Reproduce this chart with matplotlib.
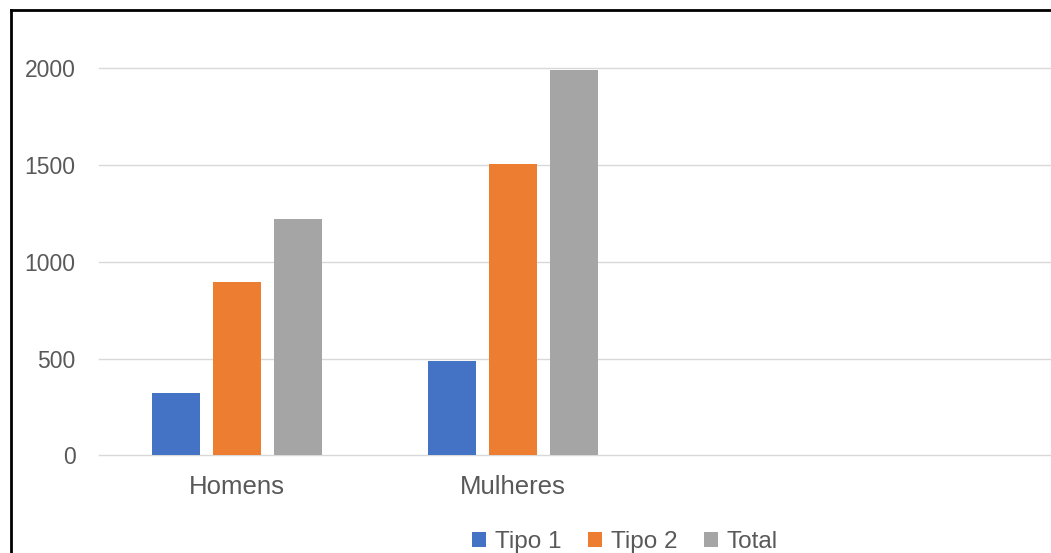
import matplotlib
matplotlib.use("Agg")
import matplotlib.pyplot as plt
from matplotlib.lines import Line2D
import numpy as np

categorias = ["Homens", "Mulheres"]
tipo1 = [323, 487]
tipo2 = [895, 1505]
total = [1220, 1992]
series = ["Tipo 1", "Tipo 2", "Total"]
cores = ["#4472C4", "#ED7D31", "#A5A5A5"]
yticks = [0, 500, 1000, 1500, 2000]

plt.rcParams["font.family"] = ["Liberation Sans", "DejaVu Sans"]
texto = "#595959"

W, H = 1051, 553
fig = plt.figure(figsize=(W / 100, H / 100), dpi=100)
# plot area: left edge at x=99px, zero line y=455px, 2000 line y=68px
ax = fig.add_axes([99 / W, (H - 455.3) / H, (W - 99) / W, (455.3 - 68.3) / H])

x = np.arange(len(categorias))
larg = 0.1775
desloc = 0.221
for j, (vals, nome, cor) in enumerate(zip([tipo1, tipo2, total], series, cores)):
    ax.bar(x + (j - 1) * desloc, vals, width=larg, color=cor, label=nome, zorder=3)

ax.set_xlim(-0.5, -0.5 + (W - 99) / 276)
ax.set_ylim(0, 2000)
ax.set_yticks(yticks)
ax.set_xticks(x)
ax.set_xticklabels(categorias)
ax.grid(axis="y", color="#D9D9D9", linewidth=1.0, zorder=0)
for gl in ax.get_ygridlines():
    gl.set_clip_on(False)
ax.set_axisbelow(True)
for s in ax.spines.values():
    s.set_visible(False)
ax.tick_params(axis="y", length=0, pad=17, labelsize=16.5, labelcolor=texto)
ax.tick_params(axis="x", length=0, pad=14, labelsize=18.5, labelcolor=texto)

leg = fig.legend(loc="center", bbox_to_anchor=(625 / W, (H - 542) / H), ncol=3,
                 frameon=False, fontsize=17.5, handlelength=0.58, handleheight=0.58,
                 handletextpad=0.35, columnspacing=1.1, borderpad=0)
for t in leg.get_texts():
    t.set_color(texto)

# moldura preta (topo e esquerda)
fig.add_artist(Line2D([11 / W, 1], [(H - 10) / H, (H - 10) / H], color="black", linewidth=2, transform=fig.transFigure))
fig.add_artist(Line2D([11 / W, 11 / W], [0, (H - 10) / H], color="black", linewidth=2, transform=fig.transFigure))

fig.savefig("out.png", dpi=100)
